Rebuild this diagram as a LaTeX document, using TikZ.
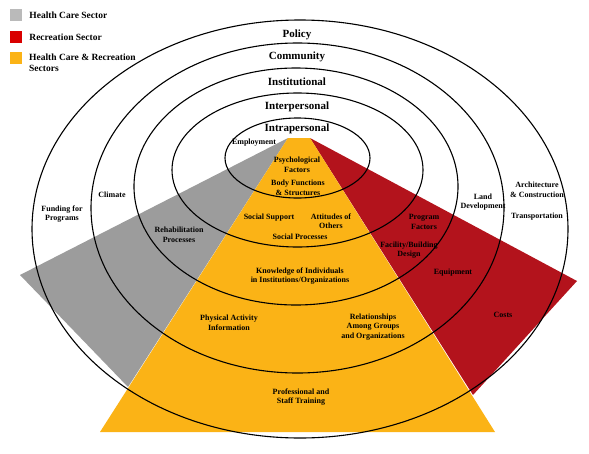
\documentclass[tikz,border=0pt]{standalone}
\usepackage{fontspec}
\setmainfont{Liberation Serif}
\usetikzlibrary{positioning}
\definecolor{hcgray}{HTML}{9C9C9C}
\definecolor{recred}{HTML}{B3131C}
\definecolor{bothyel}{HTML}{FBB316}
\tikzset{
  ring/.style={black,line width=1.1pt},
  lvl/.style={font=\fontsize{11}{12}\selectfont\bfseries},
  lbl/.style={font=\fontsize{8}{9.5}\selectfont\bfseries,align=center,inner sep=0},
  key/.style={minimum size=12pt,inner sep=0},
  keytext/.style={font=\fontsize{9.5}{11}\selectfont\bfseries,align=left,inner sep=0}
}
\begin{document}
\begin{tikzpicture}[x=1pt,y=-1pt]
  \useasboundingbox (0,0) rectangle (589,453);
  % sectors
  \fill[hcgray] (288,138) -- (20,275) -- (128,387) -- cycle;
  \fill[recred] (310,138) -- (577,281) -- (473,395) -- cycle;
  \fill[bothyel] (288,138) -- (310,138) -- (495,432) -- (100,432) -- cycle;
  % levels
  \foreach \cx/\cy/\rx/\ry in {300/229/268/209,297.5/208/206.5/165,296/186.5/162/118.5,297.5/170/125.5/77,297.5/158/72.5/40}{
    \draw[ring] (\cx,\cy) ellipse [x radius=\rx, y radius=\ry];
  }
  \node[lvl] (policy) at (297,35) {Policy};
  \node[lvl] (community) at (297,57) {Community};
  \node[lvl] (institutional) at (297,82) {Institutional};
  \node[lvl] (interpersonal) at (297,107) {Interpersonal};
  \node[lvl] (intrapersonal) at (297,129) {Intrapersonal};
  % health care sector
  \node[lbl] (funding) at (62,214) {Funding for\\Programs};
  \node[lbl] (climate) at (112,195) {Climate};
  \node[lbl] (rehab) at (179,235) {Rehabilitation\\Processes};
  \node[lbl] (employ) at (254,143) {Employment};
  % both sectors
  \node[lbl] (psych) at (297,165) {Psychological\\Factors};
  \node[lbl] (body) at (298,188) {Body Functions\\\& Structures};
  \node[lbl] (support) at (269,218) {Social Support};
  \node[lbl] (attitudes) at (331,221) {Attitudes of\\Others};
  \node[lbl] (processes) at (300,237) {Social Processes};
  \node[lbl] (knowledge) at (300,276) {Knowledge of Individuals\\in Institutions/Organizations};
  \node[lbl] (physical) at (229,323) {Physical Activity\\Information};
  \node[lbl] (relations) at (373,327) {Relationships\\Among Groups\\and Organizations};
  \node[lbl] (training) at (301,397) {Professional and\\Staff Training};
  % recreation sector
  \node[lbl] (program) at (424,222) {Program\\Factors};
  \node[lbl] (facility) at (409,250) {Facility/Building\\Design};
  \node[lbl] (equip) at (453,273) {Equipment};
  \node[lbl] (costs) at (503,315) {Costs};
  \node[lbl] (land) at (483,202) {Land\\Development};
  \node[lbl] (arch) at (537,190) {Architecture\\\& Construction};
  \node[lbl] (transport) at (537,217) {Transportation};
  % legend
  \node[key,fill=hcgray!70] (keyhc) at (16,15) {};
  \node[key,fill=red!85!black] (keyrec) at (16,37) {};
  \node[key,fill=bothyel] (keyboth) at (16,58) {};
  \node[keytext,right=7pt of keyhc] (txthc) {Health Care Sector};
  \node[keytext,right=7pt of keyrec] (txtrec) {Recreation Sector};
  \node[keytext,anchor=north west] (txtboth) at (29,54) {Health Care \& Recreation\\Sectors};
\end{tikzpicture}
\end{document}
